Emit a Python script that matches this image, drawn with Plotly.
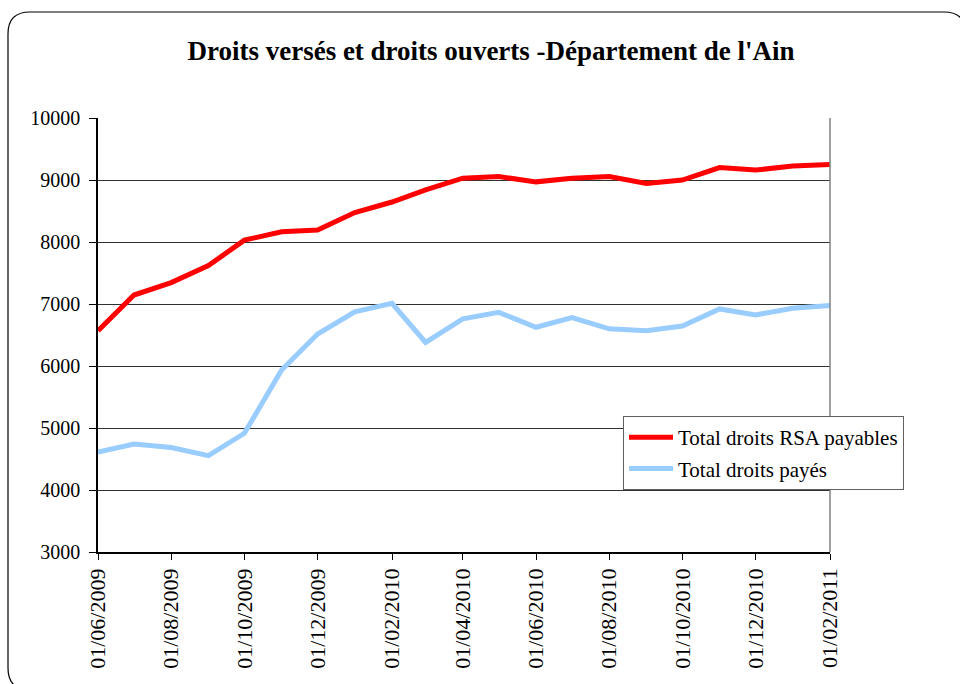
import plotly.graph_objects as go

months = ["2009-06-01", "2009-07-01", "2009-08-01", "2009-09-01", "2009-10-01",
          "2009-11-01", "2009-12-01", "2010-01-01", "2010-02-01", "2010-03-01",
          "2010-04-01", "2010-05-01", "2010-06-01", "2010-07-01", "2010-08-01",
          "2010-09-01", "2010-10-01", "2010-11-01", "2010-12-01", "2011-01-01",
          "2011-02-01"]
payables = [6570, 7145, 7345, 7620, 8030, 8165, 8195, 8475, 8645, 8840,
            9030, 9055, 8970, 9030, 9055, 8945, 9000, 9200, 9160, 9225, 9250]
payes = [4610, 4740, 4685, 4555, 4915, 5935, 6515, 6875, 7010, 6380,
         6760, 6865, 6625, 6780, 6600, 6570, 6645, 6920, 6825, 6930, 6975]
tick_dates = ["2009-06-01", "2009-08-01", "2009-10-01", "2009-12-01", "2010-02-01",
              "2010-04-01", "2010-06-01", "2010-08-01", "2010-10-01", "2010-12-01",
              "2011-02-01"]
tick_labels = ["01/06/2009", "01/08/2009", "01/10/2009", "01/12/2009", "01/02/2010",
               "01/04/2010", "01/06/2010", "01/08/2010", "01/10/2010", "01/12/2010",
               "01/02/2011"]

W, H = 960, 684
L, R, T, B = 98, 130, 118, 132
PW, PH = W - L - R, H - T - B

def px(x):
    return (x - L) / PW

def py(y):
    return 1 - (y - T) / PH

FONT = "Liberation Serif, Times New Roman, serif"

fig = go.Figure()
fig.add_trace(go.Scatter(x=months, y=payables, mode="lines",
                         name="Total droits RSA payables",
                         line=dict(color="#FF0000", width=5),
                         legendgroup="a"))
fig.add_trace(go.Scatter(x=months, y=payes, mode="lines",
                         name="Total droits payés",
                         line=dict(color="#99CCFF", width=5),
                         legendgroup="b"))

# outer rounded border
x0, y0, x1, y1, r = 8, 12, 966, 690, 22
path = (f"M {px(x0 + r)},{py(y0)} L {px(x1 - r)},{py(y0)} "
        f"Q {px(x1)},{py(y0)} {px(x1)},{py(y0 + r)} "
        f"L {px(x1)},{py(y1 - r)} Q {px(x1)},{py(y1)} {px(x1 - r)},{py(y1)} "
        f"L {px(x0 + r)},{py(y1)} Q {px(x0)},{py(y1)} {px(x0)},{py(y1 - r)} "
        f"L {px(x0)},{py(y0 + r)} Q {px(x0)},{py(y0)} {px(x0 + r)},{py(y0)} Z")
fig.add_shape(type="path", path=path, xref="paper", yref="paper",
              line=dict(color="black", width=1.2), layer="below")
fig.add_shape(type="line", xref="paper", yref="paper", x0=1, x1=1, y0=0, y1=1,
              line=dict(color="#808080", width=1.5))

fig.update_layout(
    width=W, height=H,
    margin=dict(l=L, r=R, t=T, b=B),
    paper_bgcolor="white", plot_bgcolor="white",
    font=dict(family=FONT, size=20, color="black"),
    title=dict(text="<b>Droits versés et droits ouverts -Département de l'Ain</b>",
               x=491 / W, xanchor="center", y=1 - 51 / H, yanchor="middle",
               xref="container", yref="container",
               font=dict(family=FONT, size=27, color="black")),
    legend=dict(x=px(623), y=py(416), xanchor="left", yanchor="top",
                bgcolor="white", bordercolor="#606060", borderwidth=1,
                font=dict(family=FONT, size=21, color="black"),
                tracegroupgap=1, itemwidth=44),
    showlegend=True,
)
fig.update_xaxes(type="date", range=["2009-06-01", "2011-02-01"],
                 tickvals=tick_dates, ticktext=tick_labels, tickangle=-90,
                 showgrid=False, showline=True, linecolor="black", linewidth=1.5,
                 ticks="outside", ticklen=6, tickcolor="black",
                 tickfont=dict(family=FONT, size=22))
fig.update_yaxes(range=[3000, 10000], dtick=1000, tick0=3000, tickformat="d",
                 showgrid=True, gridcolor="#303030", gridwidth=1,
                 showline=True, linecolor="black", linewidth=1.5,
                 ticks="outside", ticklen=7, tickcolor="black",
                 ticklabelstandoff=5,
                 tickfont=dict(family=FONT, size=20), zeroline=False)

fig.write_html("out.html", config={"displayModeBar": False},
               post_script="document.body.style.margin='0';")
